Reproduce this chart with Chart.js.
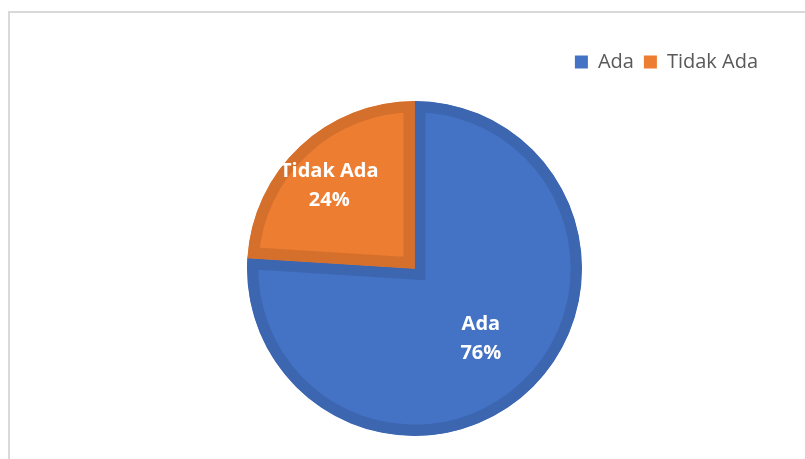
<!DOCTYPE html>
<html>
<head>
<meta charset="utf-8">
<script src="https://cdn.jsdelivr.net/npm/chart.js@4"></script>
<style>
  body { margin: 0; background: #fff; }
  canvas { display: block; }
</style>
</head>
<body>
<canvas id="chartAda" width="805" height="459"></canvas>
<script>
// Data
const labels = ['Ada', 'Tidak Ada'];
const values = [76, 24];
const fillColors = ['#4472c4', '#ed7d31'];
const edgeColors = ['#3d66b1', '#d5702c'];

// Label placement inside each slice: fraction of the radius along the
// slice's middle angle, plus a small pixel nudge
const labelDistance = [0.57, 0.70];
const labelShift = [[1, 1], [-5, 3]];

/* Light grey frame around the chart */
const framePlugin = {
    id: 'frame',
    beforeDraw: (chart) => {
        const ctx = chart.ctx;
        ctx.save();
        ctx.fillStyle = '#d9d9d9';
        ctx.fillRect(8, 11, chart.width, 2);
        ctx.fillRect(8, 11, 2, chart.height);
        ctx.restore();
    }
};

/* Category name and percentage inside each slice */
const sliceLabels = {
    id: 'sliceLabels',
    afterDatasetsDraw: (chart) => {
        const ctx = chart.ctx;
        const meta = chart.getDatasetMeta(0);
        const total = values.reduce((a, b) => a + b, 0);
        ctx.save();
        ctx.fillStyle = '#ffffff';
        ctx.font = 'bold 20px "Open Sans"';
        ctx.textAlign = 'center';
        ctx.textBaseline = 'middle';
        meta.data.forEach((arc, i) => {
            const p = arc.getProps(['x', 'y', 'startAngle', 'endAngle', 'outerRadius'], true);
            const mid = (p.startAngle + p.endAngle) / 2;
            const r = p.outerRadius * labelDistance[i];
            const x = p.x + Math.cos(mid) * r + labelShift[i][0];
            const y = p.y + Math.sin(mid) * r + labelShift[i][1];
            ctx.fillText(labels[i], x, y - 14.5);
            ctx.fillText(Math.round(values[i] / total * 100) + '%', x, y + 14.5);
        });
        ctx.restore();
    }
};

// legend squares without the slice border
const legendItems = (chart) => {
    const items = Chart.overrides.doughnut.plugins.legend.labels.generateLabels(chart);
    return items.map(item => ({ ...item, lineWidth: 0, strokeStyle: item.fillStyle }));
};

const config = {
    type: 'pie',
    data: {
        labels: labels,
        datasets: [{
            data: values,
            backgroundColor: fillColors,
            borderColor: edgeColors,
            borderWidth: 11,
            borderAlign: 'inner',
            borderJoinStyle: 'miter'
        }]
    },
    options: {
        responsive: false,
        animation: false,
        radius: 167.5,
        layout: {
            padding: { top: 42, right: 37, left: 61, bottom: 4 }
        },
        plugins: {
            legend: {
                position: 'top',
                align: 'end',
                labels: {
                    boxWidth: 13,
                    boxHeight: 13,
                    padding: 10,
                    color: '#595959',
                    font: { family: '"Open Sans"', size: 20 },
                    generateLabels: legendItems
                }
            },
            tooltip: { enabled: false }
        }
    },
    plugins: [framePlugin, sliceLabels]
};

const chartAda = new Chart(document.getElementById('chartAda'), config);
</script>
</body>
</html>
